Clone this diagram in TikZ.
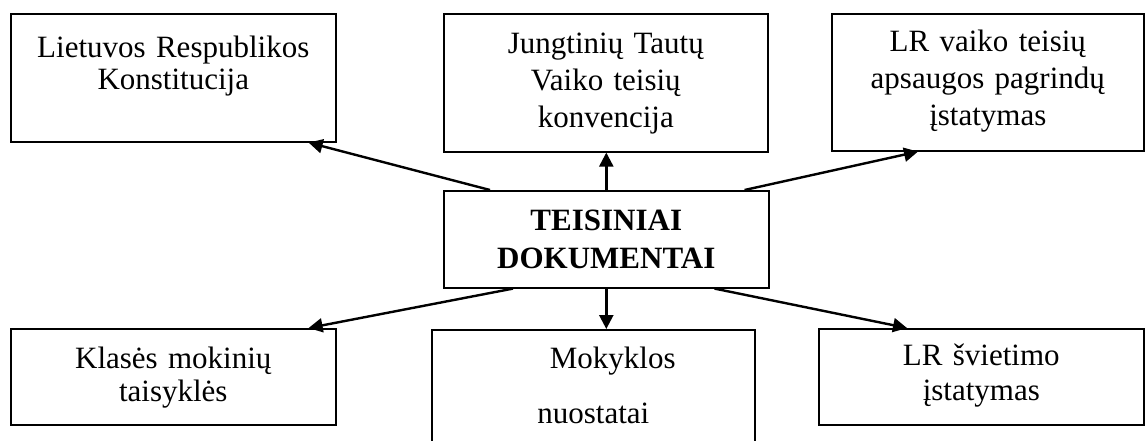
\documentclass[tikz,border=0pt]{standalone}
\usepackage{fontspec}
\setmainfont{Liberation Serif}
\usetikzlibrary{arrows.meta}
\tikzset{
  docbox/.style={draw, line width=1.6pt, anchor=north west, inner sep=0pt, align=center, font=\fontsize{31}{37}\selectfont},
  arr/.style={line width=2.4pt, -{Triangle[length=14pt,width=14pt]}}
}
\begin{document}
\begin{tikzpicture}[x=1pt,y=-1pt]
      \path[use as bounding box, clip] (0,0) rectangle (1146,441);
      \draw
        (10,13) node[docbox, text width=325pt, text height=44pt, text depth=84pt, font=\fontsize{31}{32}\selectfont] (konst){Lietuvos Respublikos\\Konstitucija}
        (443,13) node[docbox, text width=324pt, text height=40pt, text depth=98pt] (konv){Jungtinių Tautų\\Vaiko teisių\\konvencija}
        (831,13) node[docbox, text width=312pt, text height=38pt, text depth=99pt] (vaik){LR vaiko teisių\\apsaugos pagrindų\\įstatymas}
        (443,190) node[docbox, text width=325pt, text height=40pt, text depth=57pt, font=\bfseries\fontsize{31}{38}\selectfont] (teis){TEISINIAI\\DOKUMENTAI}
        (10,328) node[docbox, text width=325pt, text height=40pt, text depth=56pt, font=\fontsize{31}{33}\selectfont] (klas){Klasės mokinių\\taisyklės}
        (431,329) node[docbox, text width=323pt, text height=39pt, text depth=131pt, font=\fontsize{31}{55}\selectfont] (mok){\hspace*{39pt}Mokyklos\\nuostatai}
        (818,328) node[docbox, text width=325pt, text height=37pt, text depth=59pt, font=\fontsize{31}{35}\selectfont] (sviet){LR švietimo\\įstatymas};
      \begin{scope}[arr]
        \draw ([xshift=47pt]teis.north west) to ([xshift=-28pt]konst.south east);
        \draw (teis.north) to (teis.north |- konv.south);
        \draw ([xshift=-25pt]teis.north east) to ([xshift=87pt]vaik.south west);
        \draw ([xshift=70pt]teis.south west) to ([xshift=-28pt]klas.north east);
        \draw (teis.south) to (teis.south |- mok.north);
        \draw ([xshift=-55pt]teis.south east) to ([xshift=89pt]sviet.north west);
      \end{scope}
    \end{tikzpicture}
\end{document}
